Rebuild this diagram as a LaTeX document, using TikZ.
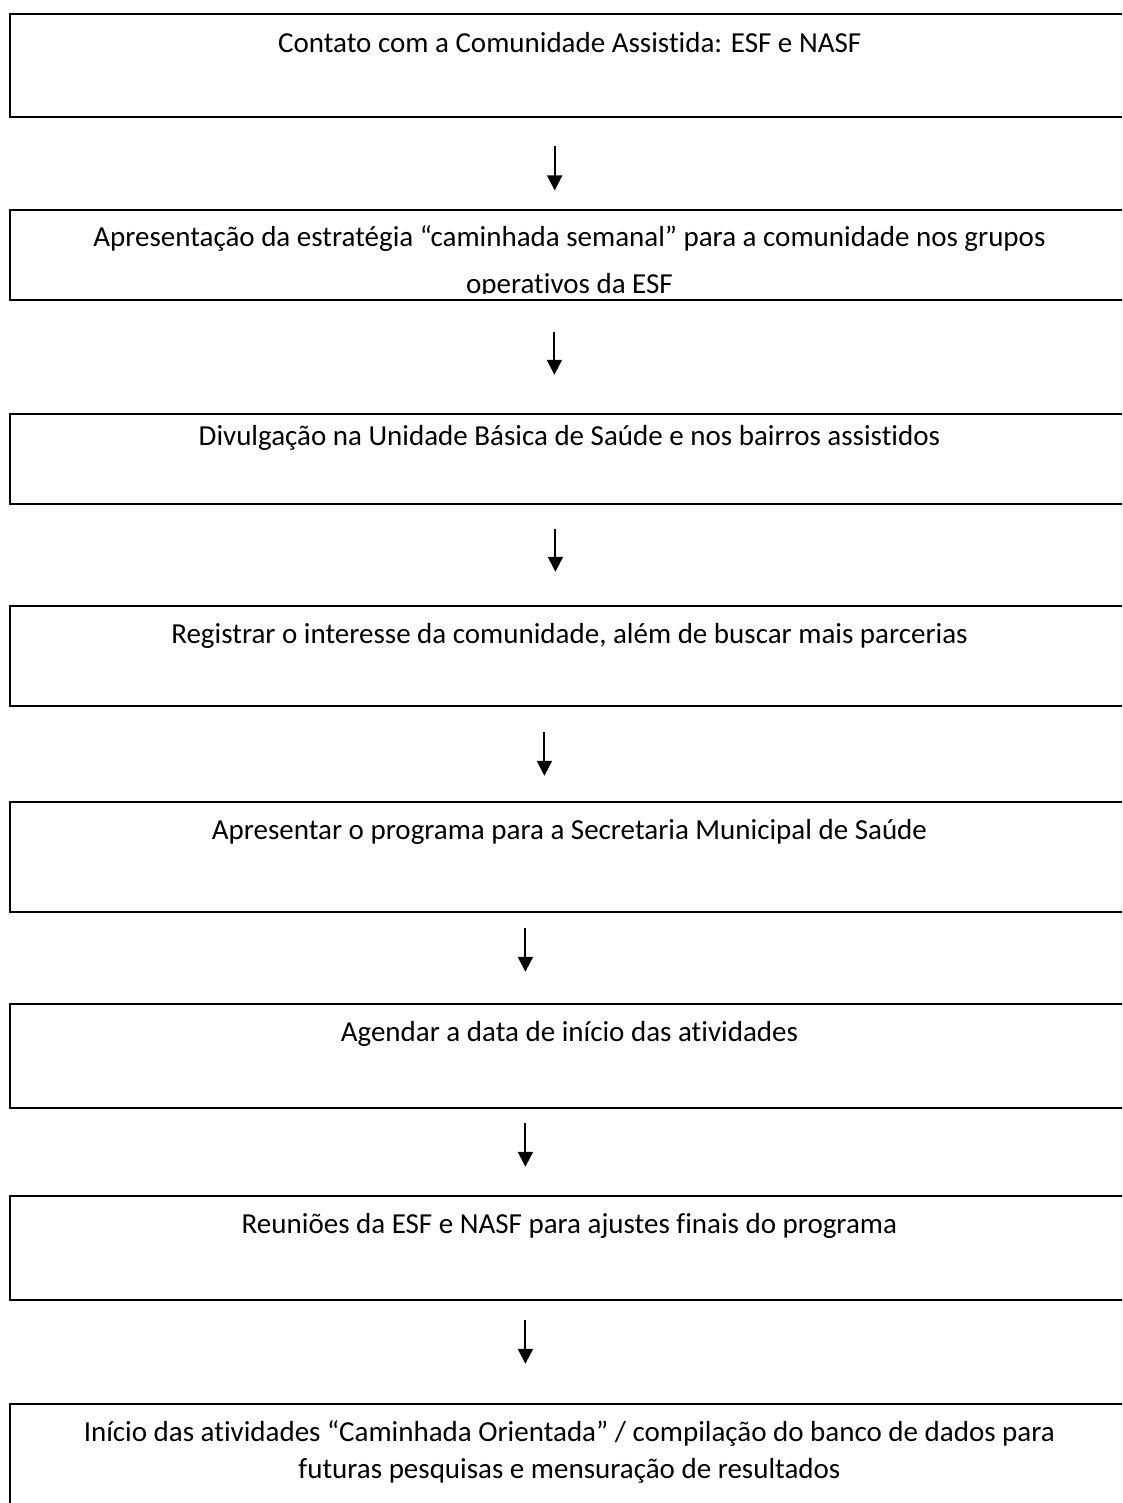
\documentclass[tikz,border=0pt]{standalone}
\usepackage{fontspec}
\setmainfont{Carlito}[Ligatures=NoCommon]
\usepackage{tikz}
\usetikzlibrary{arrows.meta}
\usetikzlibrary{calc}
\tikzstyle{etapa} = [draw, line width=1.8pt,
	minimum width=1119pt,
	anchor=north west, inner sep=0pt]
\tikzstyle{texto} = [anchor=north, align=center, inner sep=0pt,
	font=\fontsize{29}{37}\selectfont]
\tikzstyle{seta} = [-{Triangle[length=15pt, width=15pt]}, line width=2pt]

\begin{document}
\begin{tikzpicture}[x=1pt, y=-1pt]
			\useasboundingbox (0,0) rectangle (1122,1503);
			\clip (0,0) rectangle (1122,1503);
			
			\node (e1) [etapa, line width=2.4pt, minimum height=103pt] at (9,13) {};
			\node (t1) [texto] at ($ (e1.north) + (0,13) $) {\strut Contato com a Comunidade Assistida: ESF e NASF};
			
			\node (e2) [etapa, minimum height=90pt] at (9,209) {};
			\begin{scope}
				\clip (e2.north west) rectangle ($ (e2.south east) + (0,-7) $);
				\node (t2) [texto] at ($ (e2.north) + (0,11) $) {\strut Apresentação da estratégia “caminhada semanal” para a comunidade nos grupos\\[10pt] operativos da ESF};
			\end{scope}
			\draw [seta] ($ (e1.south) + (-15,28) $) -- ++(0,44);
			
			\node (e3) [etapa, minimum height=90pt] at (9,413) {};
			\node (t3) [texto] at ($ (e3.north) + (0,6) $) {\strut Divulgação na Unidade Básica de Saúde e nos bairros assistidos};
			\draw [seta] ($ (e2.south) + (-15,31) $) -- ++(0,43);
			
			\node (e4) [etapa, minimum height=100pt] at (9,605) {};
			\node (t4) [texto] at ($ (e4.north) + (0,12) $) {\strut Registrar o interesse da comunidade, além de buscar mais parcerias};
			\draw [seta] ($ (e3.south) + (-14,24) $) -- ++(0,43);
			
			\node (e5) [etapa, minimum height=110pt] at (9,801) {};
			\node (t5) [texto] at ($ (e5.north) + (0,12) $) {\strut Apresentar o programa para a Secretaria Municipal de Saúde};
			\draw [seta] ($ (e4.south) + (-25,25) $) -- ++(0,44);
			
			\node (e6) [etapa, minimum height=104pt] at (9,1003) {};
			\node (t6) [texto] at ($ (e6.north) + (0,12) $) {\strut Agendar a data de início das atividades};
			\draw [seta] ($ (e5.south) + (-44,15) $) -- ++(0,44);
			
			\node (e7) [etapa, minimum height=104pt] at (9,1195) {};
			\node (t7) [texto] at ($ (e7.north) + (0,12) $) {\strut Reuniões da ESF e NASF para ajustes finais do programa};
			\draw [seta] ($ (e6.south) + (-44,14) $) -- ++(0,44);
			
			\node (e8) [etapa, minimum height=130pt] at (9,1403) {};
			\node (t8) [texto] at ($ (e8.north) + (0,12) $) {\strut Início das atividades “Caminhada Orientada” / compilação do banco de dados para\\ futuras pesquisas e mensuração de resultados};
			\draw [seta] ($ (e7.south) + (-44,19) $) -- ++(0,44);
\end{tikzpicture}
\end{document}
